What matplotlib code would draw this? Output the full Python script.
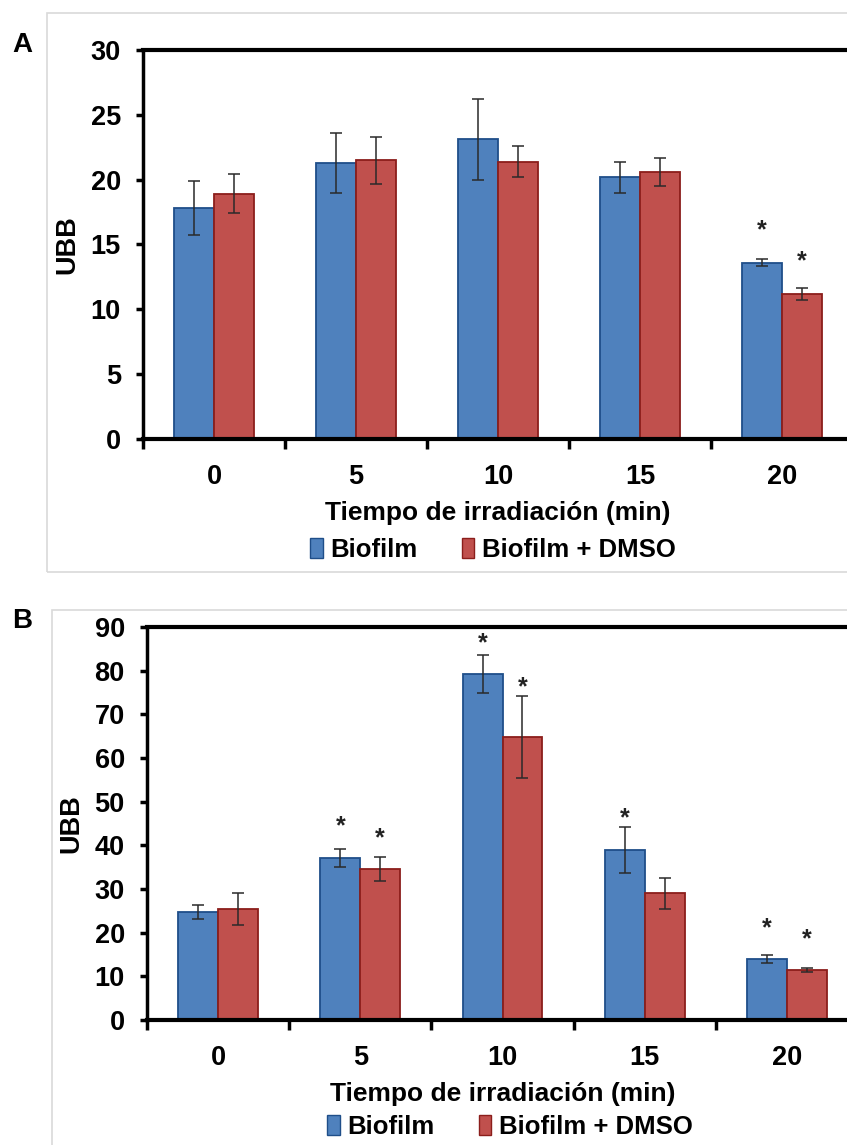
import matplotlib
matplotlib.use("Agg")
import matplotlib.pyplot as plt
from matplotlib.patches import Rectangle, Patch
import numpy as np

plt.rcParams['font.family'] = ['Liberation Sans', 'DejaVu Sans']
plt.rcParams['font.weight'] = 'bold'

categories = ["0", "5", "10", "15", "20"]
series_names = ["Biofilm", "Biofilm + DMSO"]

# Panel A
a_biofilm = [17.8, 21.3, 23.1, 20.2, 13.6]
a_biofilm_err = [2.1, 2.3, 3.1, 1.2, 0.25]
a_dmso = [18.9, 21.5, 21.4, 20.6, 11.2]
a_dmso_err = [1.5, 1.8, 1.2, 1.1, 0.45]
a_star_biofilm = [None, None, None, None, 16.1]
a_star_dmso = [None, None, None, None, 13.7]

# Panel B
b_biofilm = [24.7, 37.1, 79.3, 38.9, 13.9]
b_biofilm_err = [1.6, 2.1, 4.3, 5.2, 0.9]
b_dmso = [25.4, 34.6, 64.8, 29.0, 11.5]
b_dmso_err = [3.7, 2.7, 9.3, 3.5, 0.4]
b_star_biofilm = [None, 44.3, 86.3, 46.1, 21.1]
b_star_dmso = [None, 41.7, 76.3, None, 18.5]

BLUE = "#4F81BD"
BLUE_EDGE = "#1F4E89"
RED = "#C0504D"
RED_EDGE = "#8B1E1B"

W, H = 847, 1145
fig = plt.figure(figsize=(W / 100, H / 100), dpi=100)


def fx(px):
    return px / W


def fy(py):
    return 1 - py / H


def panel(ax, s1, e1, s2, e2, st1, st2, ymax, ystep):
    x = np.arange(len(categories))
    bw = 0.28
    ax.bar(x - bw / 2, s1, bw, color=BLUE, edgecolor=BLUE_EDGE, linewidth=1.3, zorder=2)
    ax.bar(x + bw / 2, s2, bw, color=RED, edgecolor=RED_EDGE, linewidth=1.3, zorder=2)
    ax.errorbar(x - bw / 2, s1, yerr=e1, fmt='none', ecolor='#2a2a2a', elinewidth=1.1,
                capsize=4, capthick=1.1, zorder=3)
    ax.errorbar(x + bw / 2, s2, yerr=e2, fmt='none', ecolor='#2a2a2a', elinewidth=1.1,
                capsize=4, capthick=1.1, zorder=3)
    for i, v in enumerate(st1):
        if v is not None:
            ax.text(x[i] - bw / 2, v, "*", ha='center', va='center', fontsize=18,
                    fontweight='bold', color='#222222')
    for i, v in enumerate(st2):
        if v is not None:
            ax.text(x[i] + bw / 2, v, "*", ha='center', va='center', fontsize=18,
                    fontweight='bold', color='#222222')
    ax.set_xlim(-0.5, len(categories) - 0.5)
    ax.set_ylim(0, ymax)
    ax.set_yticks(np.arange(0, ymax + 0.1, ystep))
    ax.set_xticks(np.arange(-0.5, len(categories), 1.0))
    ax.set_xticklabels([])
    ax.set_xticks(x, minor=True)
    ax.set_xticklabels(categories, minor=True)
    ax.tick_params(axis='x', which='major', direction='out', length=7, width=2.5)
    ax.tick_params(axis='x', which='minor', length=0, pad=18, labelsize=19.5)
    ax.tick_params(axis='y', direction='out', length=5, width=2.5, pad=11, labelsize=19.5)
    for lab in ax.get_xticklabels(minor=True) + ax.get_yticklabels():
        lab.set_fontweight('bold')
    for side in ['left', 'bottom', 'top', 'right']:
        ax.spines[side].set_linewidth(3)
    ax.spines['left'].set_linewidth(2.5)
    ax.set_xlabel("Tiempo de irradiación (min)", fontsize=19, fontweight='bold', labelpad=8)
    ax.set_ylabel("UBB", fontsize=19.5, fontweight='bold', labelpad=7)


# Panel boxes
fig.add_artist(Rectangle((fx(47), fy(572)), 1.2, fy(13) - fy(572), transform=fig.transFigure,
                         fill=False, edgecolor='#d9d9d9', linewidth=1.2))
fig.add_artist(Rectangle((fx(52), -0.2), 1.2, fy(610) + 0.2, transform=fig.transFigure,
                         fill=False, edgecolor='#d9d9d9', linewidth=1.2))

axA = fig.add_axes([fx(143), fy(439), fx(853) - fx(143), fy(50) - fy(439)])
panel(axA, a_biofilm, a_biofilm_err, a_dmso, a_dmso_err, a_star_biofilm, a_star_dmso, 30, 5)
axB = fig.add_axes([fx(147), fy(1020), fx(858) - fx(147), fy(627) - fy(1020)])
panel(axB, b_biofilm, b_biofilm_err, b_dmso, b_dmso_err, b_star_biofilm, b_star_dmso, 90, 10)

fig.text(fx(22), fy(45), "A", fontsize=20, fontweight='bold', ha='center', va='center')
fig.text(fx(22), fy(621), "B", fontsize=20, fontweight='bold', ha='center', va='center')

handles = [Patch(facecolor=BLUE, edgecolor=BLUE_EDGE, label=series_names[0]),
           Patch(facecolor=RED, edgecolor=RED_EDGE, label=series_names[1])]
for cx, cy in [(493, 550), (510, 1127)]:
    fig.legend(handles=handles, loc='center', bbox_to_anchor=(fx(cx), fy(cy)), ncol=2,
               frameon=False, prop={'size': 18.5, 'weight': 'bold'}, handlelength=0.5,
               handleheight=0.85, handletextpad=0.3, columnspacing=1.7, borderpad=0)

fig.savefig("out.png", dpi=100)
